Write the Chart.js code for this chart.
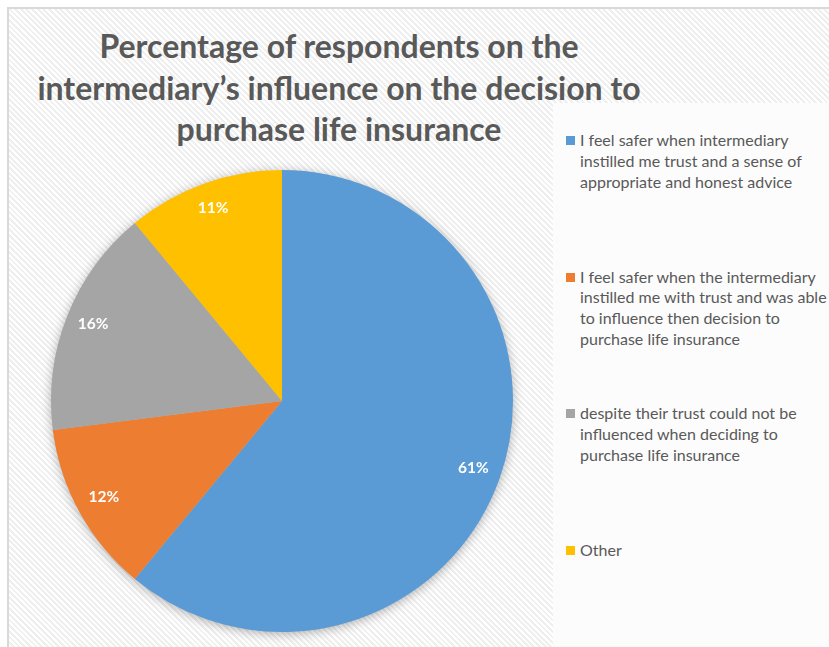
<!DOCTYPE html>
<html lang="en">
<head>
<meta charset="UTF-8">
<title>Intermediary influence pie</title>
<script src="https://cdn.jsdelivr.net/npm/chart.js@4/dist/chart.umd.min.js"></script>
<style>
  body, html {
    margin: 0;
    padding: 0;
    width: 829px;
    height: 647px;
    overflow: hidden;
    background: #ffffff;
  }
  #frame {
    position: absolute;
    left: 7px;
    top: 7px;
    width: 840px;
    height: 660px;
    border-left: 2px solid #d9d9d9;
    border-top: 2px solid #d9d9d9;
    background: repeating-linear-gradient(45deg, #ffffff 0px, #ffffff 2px, #efefef 2px, #efefef 4px);
  }
  #legend-box {
    position: absolute;
    left: 553px;
    top: 103px;
    width: 300px;
    height: 560px;
    background: #fcfcfc;
  }
  #title {
    position: absolute;
    left: 0;
    top: 25px;
    width: 678px;
    text-align: center;
    white-space: nowrap;
    font-family: Lato, "Open Sans", sans-serif;
    font-weight: bold;
    font-size: 32px;
    line-height: 41.5px;
    color: #595959;
  }
  #chart-canvas {
    position: absolute;
    left: 32px;
    top: 151px;
  }
  #legend {
    position: absolute;
    left: 566px;
    top: 130px;
    font-family: Lato, "Open Sans", sans-serif;
    font-size: 16px;
    line-height: 20.8px;
    color: #595959;
  }
  .legend-item {
    position: absolute;
    left: 0;
    white-space: nowrap;
  }
  .legend-swatch {
    position: absolute;
    left: 0;
    top: 6px;
    width: 9px;
    height: 9px;
  }
  .legend-text {
    margin-left: 14px;
  }
</style>
</head>
<body>
<div id="frame"></div>
<div id="legend-box"></div>
<div id="title"></div>
<canvas id="chart-canvas" width="500" height="500"></canvas>
<div id="legend"></div>
<script>
const titleLines = [
  'Percentage of respondents on the',
  'intermediary\u2019s influence on the decision to',
  'purchase life insurance'
];
const categories = [
  ['I feel safer when intermediary', 'instilled me trust and a sense of', 'appropriate and honest advice'],
  ['I feel safer when the intermediary', 'instilled me with trust and was able', 'to influence then decision to', 'purchase life insurance'],
  ['despite their trust could not be', 'influenced when deciding to', 'purchase life insurance'],
  ['Other']
];
const percentages = [61, 12, 16, 11];
const sliceColors = ['#5b9bd5', '#ed7d31', '#a5a5a5', '#ffc000'];

document.getElementById('title').innerHTML = titleLines.join('<br>');

// legend built from the same arrays
const legendEl = document.getElementById('legend');
categories.forEach((lines, i) => {
  let item = document.createElement('div');
  item.className = 'legend-item';
  item.style.top = (i * 136.7) + 'px';
  item.innerHTML = '<div class="legend-swatch" style="background:' + sliceColors[i] + '"></div>' +
    '<div class="legend-text">' + lines.join('<br>') + '</div>';
  legendEl.appendChild(item);
});

// soft shadow under the pie
const pieShadow = {
  id: 'pieShadow',
  beforeDatasetsDraw(chart) {
    const arc = chart.getDatasetMeta(0).data[0];
    if (!arc) return;
    const ctx = chart.ctx;
    ctx.save();
    ctx.shadowColor = 'rgba(0,0,0,0.35)';
    ctx.shadowBlur = 12;
    ctx.shadowOffsetY = 2;
    ctx.fillStyle = '#bbbbbb';
    ctx.beginPath();
    ctx.arc(arc.x, arc.y, arc.outerRadius - 1, 0, Math.PI * 2);
    ctx.fill();
    ctx.restore();
  }
};

// percentage labels inside the slices
const sliceLabels = {
  id: 'sliceLabels',
  afterDatasetsDraw(chart) {
    const ctx = chart.ctx;
    const meta = chart.getDatasetMeta(0);
    ctx.save();
    ctx.fillStyle = '#ffffff';
    ctx.font = 'bold 15.5px Lato, "Open Sans", sans-serif';
    ctx.textAlign = 'center';
    ctx.textBaseline = 'middle';
    meta.data.forEach((arc, i) => {
      const mid = (arc.startAngle + arc.endAngle) / 2;
      const r = arc.outerRadius * 0.88;
      ctx.fillText(percentages[i] + '%', arc.x + Math.cos(mid) * r, arc.y + Math.sin(mid) * r - 2);
    });
    ctx.restore();
  }
};

new Chart(document.getElementById('chart-canvas').getContext('2d'), {
  type: 'pie',
  data: {
    labels: categories.map(l => l.join(' ')),
    datasets: [{
      data: percentages,
      backgroundColor: sliceColors,
      borderWidth: 0
    }]
  },
  options: {
    responsive: false,
    animation: false,
    layout: { padding: 19 },
    plugins: {
      legend: { display: false },
      title: { display: false },
      tooltip: { enabled: false }
    }
  },
  plugins: [pieShadow, sliceLabels]
});
</script>
</body>
</html>
